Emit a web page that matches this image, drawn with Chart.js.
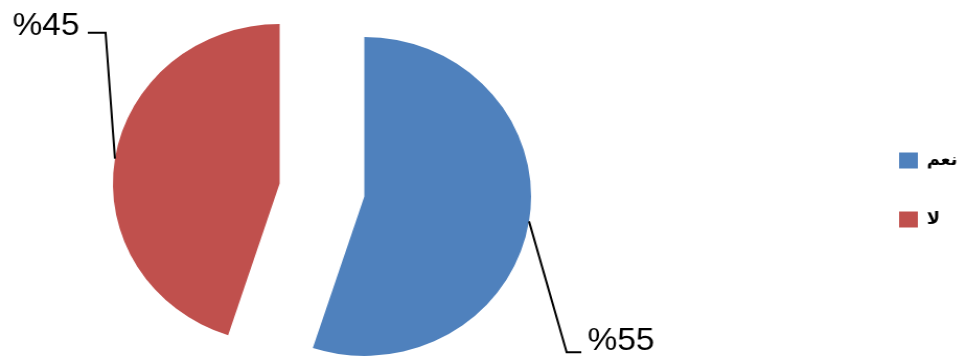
<!DOCTYPE html>
<html lang="ar">
<head>
<meta charset="utf-8">
<title>نعم / لا</title>
<script src="https://cdn.jsdelivr.net/npm/chart.js@4/dist/chart.umd.min.js"></script>
<style>
  html, body { margin: 0; padding: 0; background: #ffffff; overflow: hidden; }
  /* the chart is drawn slightly narrower and widened to the full page */
  #wrap {
    position: relative;
    width: 925px;
    height: 358px;
    transform: scaleX(1.0454);
    transform-origin: 0 0;
  }
</style>
</head>
<body>
<div id="wrap"><canvas id="pie"></canvas></div>
<script>
// Answers and their shares (percent)
const categories = ['نعم', 'لا'];
const shares = [55, 45];

// Leader lines: from the middle of each slice's rim to an elbow, then a short tail
const leaderStyle = [
  { dx: 36, dy: 131, tail: 14, align: 'left', gap: 6, textShift: -2 },     // نعم
  { dx: -9, dy: -126, tail: -17, align: 'right', gap: -8, textShift: 2 }   // لا
];

// Pull every slice straight out along its middle angle (keeps the slice edges true)
const explode = {
  id: 'explode',
  afterDatasetUpdate(chart, args, opts) {
    if (args.index !== 0) return;
    args.meta.data.forEach((arc) => {
      const mid = (arc.startAngle + arc.endAngle) / 2;
      arc.x += Math.cos(mid) * opts.distance;
      arc.y += Math.sin(mid) * opts.distance;
    });
  }
};

const leaderLabels = {
  id: 'leaderLabels',
  afterDatasetsDraw(chart, args, opts) {
    const meta = chart.getDatasetMeta(0);
    const values = chart.data.datasets[0].data;
    const ctx = chart.ctx;
    ctx.save();
    ctx.strokeStyle = '#000000';
    ctx.lineWidth = 2;
    ctx.fillStyle = '#000000';
    ctx.font = '32px "Liberation Sans", Arial, sans-serif';
    ctx.textBaseline = 'alphabetic';
    meta.data.forEach((arc, i) => {
      const s = opts.leaders[i];
      const mid = (arc.startAngle + arc.endAngle) / 2;
      const ax = arc.x + Math.cos(mid) * arc.outerRadius;
      const ay = arc.y + Math.sin(mid) * arc.outerRadius;
      const bx = ax + s.dx, by = ay + s.dy;
      const cx = bx + s.tail;
      ctx.beginPath();
      ctx.moveTo(ax, ay);
      ctx.lineTo(bx, by);
      ctx.lineTo(cx, by);
      ctx.stroke();
      ctx.textAlign = s.align;
      ctx.fillText('%' + values[i], cx + s.gap, by + s.textShift);
    });
    ctx.restore();
  }
};

// Legend column: fixed width for the layout, then its items are moved to the right edge
const legendPlace = {
  id: 'legendPlace',
  beforeInit(chart, args, opts) {
    const legend = chart.legend;
    if (!legend) return;
    const fit = legend.fit;
    legend.fit = function () {
      fit.call(this);
      this.width = opts.width;
    };
  },
  afterLayout(chart, args, opts) {
    const legend = chart.legend;
    if (!legend) return;
    const shift = opts.left - legend.left;
    legend.left += shift;
    legend.right += shift;
  }
};

new Chart(document.getElementById('pie'), {
  type: 'pie',
  data: {
    labels: categories,
    datasets: [{
      data: shares,
      backgroundColor: ['#4F81BD', '#C0504D'],
      borderWidth: 0,
      radius: 159.5
    }]
  },
  plugins: [explode, leaderLabels, legendPlace],
  options: {
    responsive: true,
    maintainAspectRatio: false,
    animation: false,
    devicePixelRatio: 1,
    events: [],
    layout: { padding: { left: 0, right: 0, top: 22, bottom: 0 } },
    plugins: {
      tooltip: { enabled: false },
      explode: { distance: 41 },
      legendPlace: { width: 309, left: 818 },
      leaderLabels: { leaders: leaderStyle },
      legend: {
        position: 'right',
        align: 'center',
        labels: {
          boxWidth: 18,
          boxHeight: 16,
          padding: 42,
          color: '#000000',
          font: { size: 17, weight: 'bold', family: '"DejaVu Sans", "Liberation Sans", Arial, sans-serif' }
        }
      }
    }
  }
});
</script>
</body>
</html>
